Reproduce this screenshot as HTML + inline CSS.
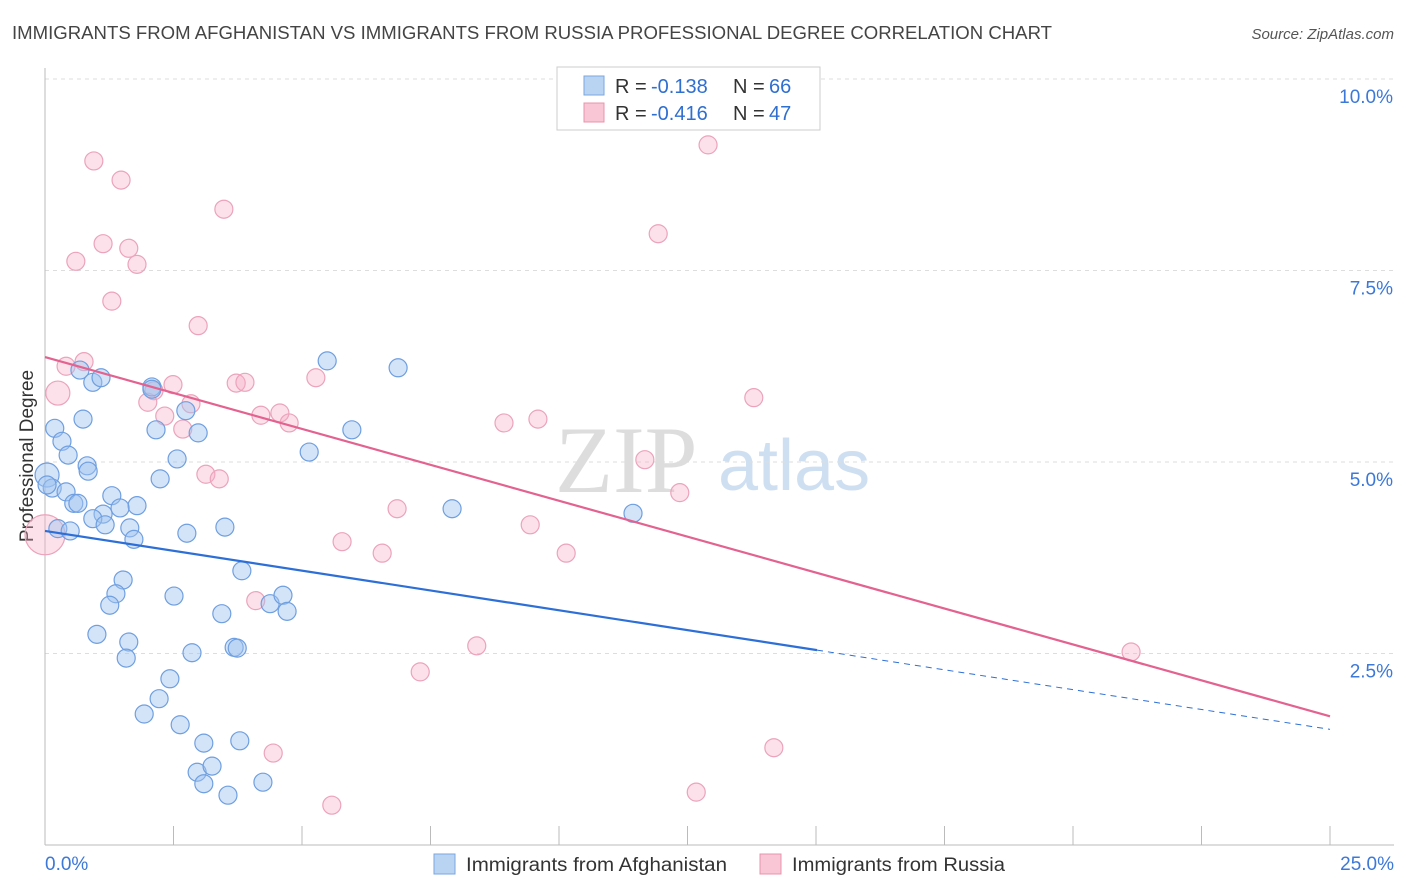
<!DOCTYPE html>
<html><head><meta charset="utf-8"><style>
body{margin:0;background:#fff;font-family:"Liberation Sans",sans-serif;}
#wrap{position:relative;width:1406px;height:892px;overflow:hidden}
</style></head><body>
<div id="wrap">
<svg id="svg" width="1406" height="892" xmlns="http://www.w3.org/2000/svg">
<text x="12" y="39" font-size="18" fill="#444" textLength="1040" lengthAdjust="spacingAndGlyphs">IMMIGRANTS FROM AFGHANISTAN VS IMMIGRANTS FROM RUSSIA PROFESSIONAL DEGREE CORRELATION CHART</text>
<text x="1394" y="39" font-size="15" fill="#555" font-style="italic" text-anchor="end">Source: ZipAtlas.com</text>
<text x="33" y="456" font-size="19" fill="#333" text-anchor="middle" transform="rotate(-90 33 456)">Professional Degree</text>
<text x="555" y="492" font-size="95" fill="#ddd" font-family="Liberation Serif,serif">ZIP</text>
<text x="718" y="490" font-size="72" fill="#cfdff2">atlas</text>
<g id="grid"></g><g id="axes"></g><g id="pts"></g><g id="trend"></g>
<g>
<rect x="557" y="67" width="263" height="63" fill="#fff" stroke="#ccc"/>
<rect x="584" y="76" width="20" height="19" fill="#b9d3f3" stroke="#7aa7e0"/>
<text x="615" y="93" font-size="20" fill="#333">R = <tspan x="651" fill="#2f6fd0">-0.138</tspan><tspan x="733">N = </tspan><tspan x="769" fill="#2f6fd0">66</tspan></text>
<rect x="584" y="103" width="20" height="19" fill="#f9c6d5" stroke="#e894ae"/>
<text x="615" y="120" font-size="20" fill="#333">R = <tspan x="651" fill="#2f6fd0">-0.416</tspan><tspan x="733">N = </tspan><tspan x="769" fill="#2f6fd0">47</tspan></text>
</g>
<g>
<rect x="434" y="854" width="21" height="20" fill="#b9d3f3" stroke="#7aa7e0"/>
<text x="466" y="871" font-size="19" fill="#333" textLength="261" lengthAdjust="spacingAndGlyphs">Immigrants from Afghanistan</text>
<rect x="760" y="854" width="21" height="20" fill="#f9c6d5" stroke="#e894ae"/>
<text x="792" y="871" font-size="19" fill="#333" textLength="213" lengthAdjust="spacingAndGlyphs">Immigrants from Russia</text>
</g>
</svg>
</div>
<script>
const yTicks=[2.5,5.0,7.5,10.0];
const yTickLabels=["2.5%","5.0%","7.5%","10.0%"];
const xTickLabels=["0.0%","25.0%"];
const blueX=[0.04,0.14,0.19,0.33,0.45,0.74,0.68,0.93,1.09,2.08,2.74,2.16,2.98,2.57,2.24,0.82,0.84,0.41,0.56,0.64,1.30,1.79,1.13,0.93,0.25,0.49,1.17,1.65,1.73,1.46,2.76,3.50,5.14,5.97,5.49,6.87,7.92,11.44,3.83,1.52,1.38,1.26,2.51,3.44,4.38,4.63,4.71,1.01,1.63,1.58,2.86,3.68,3.74,2.22,1.93,2.43,2.63,3.09,3.79,2.96,3.25,3.09,3.56,4.24,0.04,2.08];
const blueY=[4.83,4.66,5.44,5.27,5.09,5.56,6.20,6.04,6.10,5.98,5.67,5.42,5.38,5.04,4.78,4.95,4.88,4.61,4.46,4.46,4.56,4.43,4.32,4.26,4.13,4.10,4.18,4.14,3.99,4.40,4.07,4.15,5.13,5.42,6.32,6.23,4.39,4.33,3.58,3.46,3.28,3.13,3.25,3.02,3.15,3.26,3.05,2.75,2.65,2.44,2.51,2.58,2.57,1.91,1.71,2.17,1.57,1.33,1.36,0.95,1.03,0.80,0.65,0.82,4.70,5.95];
const pinkX=[0.95,1.48,3.48,1.13,1.63,0.60,1.79,1.30,2.98,12.90,11.93,0.41,0.76,0.25,2.49,2.12,2.00,2.84,2.33,2.68,3.72,3.89,5.27,4.20,4.57,4.75,8.93,9.59,13.79,11.67,3.13,3.39,12.35,6.85,9.44,5.78,6.56,10.14,4.10,8.40,7.30,4.44,5.58,12.67,14.18,21.13,0.00];
const pinkY=[8.93,8.68,8.30,7.85,7.79,7.62,7.58,7.10,6.78,9.14,7.98,6.25,6.31,5.90,6.01,5.93,5.78,5.76,5.60,5.43,6.03,6.04,6.10,5.61,5.64,5.51,5.51,5.56,5.84,5.03,4.84,4.78,4.60,4.39,4.18,3.96,3.81,3.81,3.19,2.60,2.26,1.20,0.52,0.69,1.27,2.52,4.05];
const blueTrend=[4.10,1.51]; const blueSolidEnd=15.02;
const pinkTrend=[6.37,1.68];
const X0=45,X1=1330,Y0=845,Y10=79;
const sx=v=>X0+(X1-X0)*v/25, sy=v=>Y0-(Y0-Y10)*v/10;
const NS="http://www.w3.org/2000/svg";
function mk(tag,attrs,parent){const e=document.createElementNS(NS,tag);for(const k in attrs)e.setAttribute(k,attrs[k]);document.getElementById(parent).appendChild(e);return e;}
yTicks.forEach((t,i)=>{
 const l=mk('line',{x1:45,x2:1394,y1:sy(t),y2:sy(t),stroke:'#ddd','stroke-dasharray':'4,4'},'grid');
 
 
 const tx=mk('text',{x:1393,y:sy(t)+24,'font-size':19,fill:'#3c78d8','text-anchor':'end'},'grid');tx.textContent=yTickLabels[i];
 
 
});
const ax=mk('line',{x1:45,x2:1394,y1:845,y2:845,stroke:'#bbb'},'axes');


const ay=mk('line',{x1:45,x2:45,y1:68,y2:845,stroke:'#bbb'},'axes');


for(let i=0;i<=10;i++){const t=mk('line',{x1:sx(i*2.5),x2:sx(i*2.5),y1:826,y2:845,stroke:'#bbb'},'axes');
 
 }
[[0,45,'start'],[25,1394,'end']].forEach((d,i)=>{const t=mk('text',{x:d[1],y:870,'font-size':19,fill:'#3c78d8','text-anchor':d[2]},'axes');t.textContent=xTickLabels[i];
 
 });
pinkX.forEach((v,i)=>{const r=i===46?20:(i===13?12:9);const c=mk('circle',{cx:sx(v),cy:sy(pinkY[i]),r:r,fill:'rgba(246,170,196,0.35)',stroke:'#eba3bb','stroke-width':1.2},'pts');
 
 });
blueX.forEach((v,i)=>{const r=i===0?12:9;const c=mk('circle',{cx:sx(v),cy:sy(blueY[i]),r:r,fill:'rgba(160,196,240,0.45)',stroke:'#6f9fe0','stroke-width':1.2},'pts');
 
 });
const by=x=>blueTrend[0]+(blueTrend[1]-blueTrend[0])*x/25;
const b1=mk('line',{x1:sx(0),y1:sy(blueTrend[0]),x2:sx(blueSolidEnd),y2:sy(by(blueSolidEnd)),stroke:'#2d6fd6','stroke-width':2.2},'trend');


const b2=mk('line',{x1:sx(blueSolidEnd),y1:sy(by(blueSolidEnd)),x2:sx(25),y2:sy(blueTrend[1]),stroke:'#2d6fd6','stroke-width':1,'stroke-dasharray':'6,5'},'trend');


const p1=mk('line',{x1:sx(0),y1:sy(pinkTrend[0]),x2:sx(25),y2:sy(pinkTrend[1]),stroke:'#e3628f','stroke-width':2.2},'trend');


</script>
</body></html>
